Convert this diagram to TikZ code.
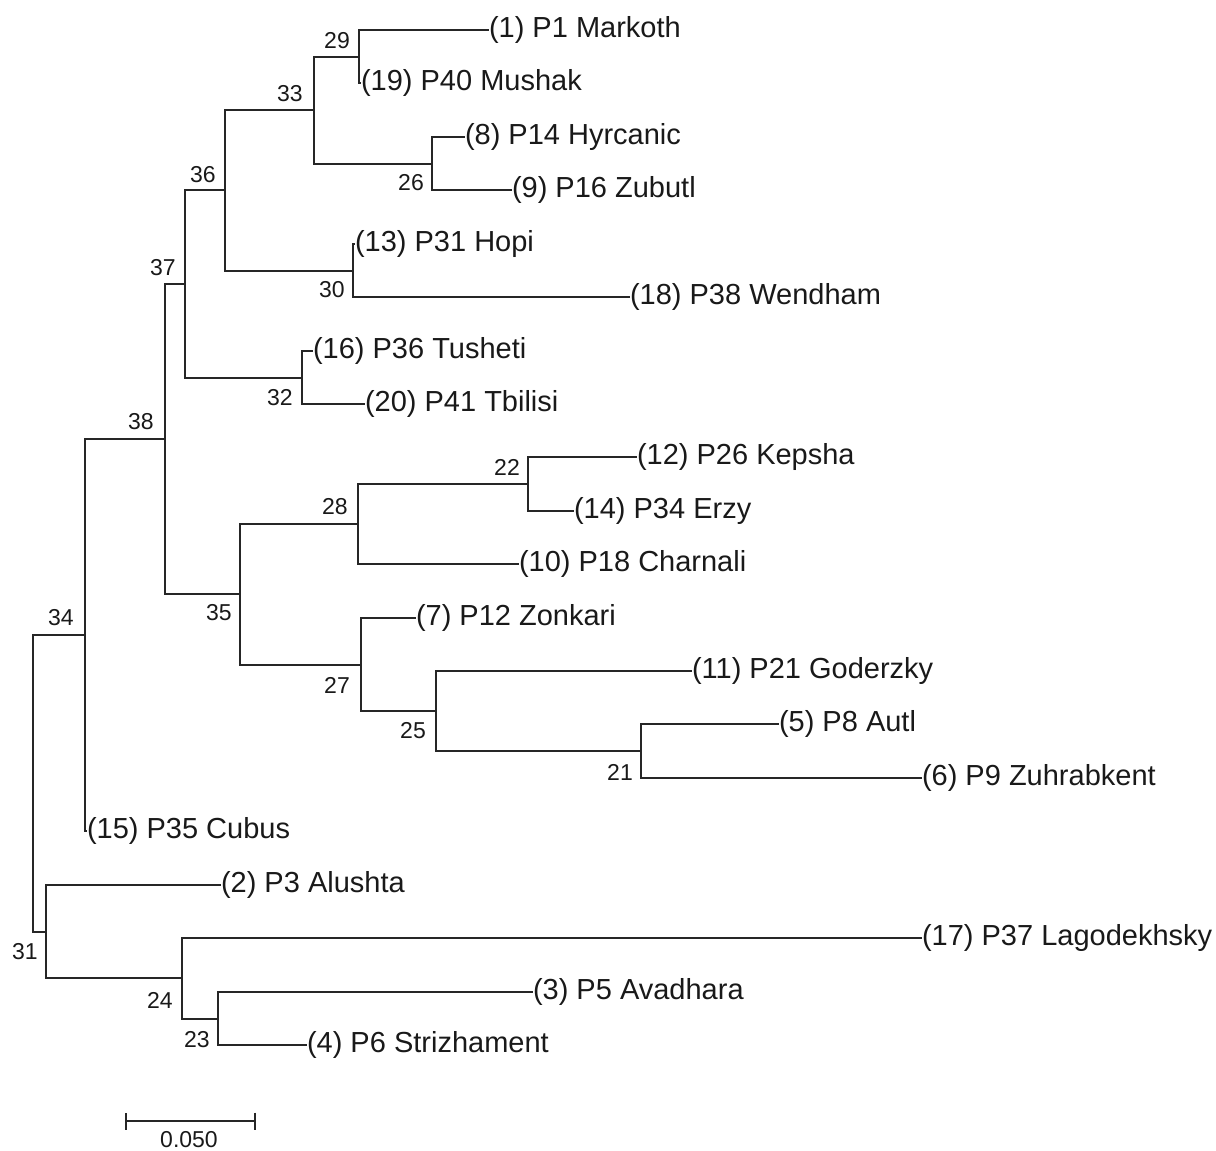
\documentclass[tikz,border=0pt]{standalone}
\usepackage{fontspec}
\setmainfont{Liberation Sans}
\usetikzlibrary{arrows.meta}

\begin{document}
\begin{tikzpicture}[
        x=0.5pt, y=-0.5pt,
        taxon/.style={anchor=west, inner sep=0pt, outer sep=0pt, text=black!90, font=\fontsize{14.5}{17}\selectfont},
        nodeno/.style={inner sep=0pt, text=black!90, font=\fontsize{11.5}{13}\selectfont},
        branch/.style={line width=1pt, draw=black!85}
    ]
        \useasboundingbox (0,0) rectangle (1216,1151);

        % Taxa
        \node[taxon] (t1) at (489,30) {(1) P1 Markoth};
        \node[taxon] (t19) at (361,83) {(19) P40 Mushak};
        \node[taxon] (t8) at (465,137) {(8) P14 Hyrcanic};
        \node[taxon] (t9) at (512,190) {(9) P16 Zubutl};
        \node[taxon] (t13) at (355,244) {(13) P31 Hopi};
        \node[taxon] (t18) at (630,297) {(18) P38 Wendham};
        \node[taxon] (t16) at (313,351) {(16) P36 Tusheti};
        \node[taxon] (t20) at (365,404) {(20) P41 Tbilisi};
        \node[taxon] (t12) at (637,457) {(12) P26 Kepsha};
        \node[taxon] (t14) at (574,511) {(14) P34 Erzy};
        \node[taxon] (t10) at (519,564) {(10) P18 Charnali};
        \node[taxon] (t7) at (416,618) {(7) P12 Zonkari};
        \node[taxon] (t11) at (692,671) {(11) P21 Goderzky};
        \node[taxon] (t5) at (779,724) {(5) P8 Autl};
        \node[taxon] (t6) at (922,778) {(6) P9 Zuhrabkent};
        \node[taxon] (t15) at (87,831) {(15) P35 Cubus};
        \node[taxon] (t2) at (221,885) {(2) P3 Alushta};
        \node[taxon] (t17) at (922,938) {(17) P37 Lagodekhsky};
        \node[taxon] (t3) at (533,992) {(3) P5 Avadhara};
        \node[taxon] (t4) at (307,1045) {(4) P6 Strizhament};

        % Internal nodes
        \coordinate (n29) at (359,56.5);
        \coordinate (n26) at (432,163.5);
        \coordinate (n33) at (314,110);
        \coordinate (n30) at (353,270.5);
        \coordinate (n36) at (225,190.3);
        \coordinate (n32) at (302,377.5);
        \coordinate (n37) at (185,283.9);
        \coordinate (n22) at (528,484);
        \coordinate (n28) at (358,524);
        \coordinate (n21) at (641,751);
        \coordinate (n25) at (436,711);
        \coordinate (n27) at (361,664.5);
        \coordinate (n35) at (240,594.3);
        \coordinate (n38) at (165,439);
        \coordinate (n34) at (85,635);
        \coordinate (n23) at (218,1018.5);
        \coordinate (n24) at (182,978);
        \coordinate (n31) at (46,931.5);
        \coordinate (root) at (33,783);

        % Branches
        \draw[branch] (n29) |- (t1.west);
        \draw[branch] (n29) |- (t19.west);
        \draw[branch] (n26) |- (t8.west);
        \draw[branch] (n26) |- (t9.west);
        \draw[branch] (n33) |- (n29);
        \draw[branch] (n33) |- (n26);
        \draw[branch] (n30) |- (t13.west);
        \draw[branch] (n30) |- (t18.west);
        \draw[branch] (n36) |- (n33);
        \draw[branch] (n36) |- (n30);
        \draw[branch] (n32) |- (t16.west);
        \draw[branch] (n32) |- (t20.west);
        \draw[branch] (n37) |- (n36);
        \draw[branch] (n37) |- (n32);
        \draw[branch] (n22) |- (t12.west);
        \draw[branch] (n22) |- (t14.west);
        \draw[branch] (n28) |- (n22);
        \draw[branch] (n28) |- (t10.west);
        \draw[branch] (n21) |- (t5.west);
        \draw[branch] (n21) |- (t6.west);
        \draw[branch] (n25) |- (t11.west);
        \draw[branch] (n25) |- (n21);
        \draw[branch] (n27) |- (t7.west);
        \draw[branch] (n27) |- (n25);
        \draw[branch] (n35) |- (n28);
        \draw[branch] (n35) |- (n27);
        \draw[branch] (n38) |- (n37);
        \draw[branch] (n38) |- (n35);
        \draw[branch] (n34) |- (n38);
        \draw[branch] (n34) |- (t15.west);
        \draw[branch] (n23) |- (t3.west);
        \draw[branch] (n23) |- (t4.west);
        \draw[branch] (n24) |- (t17.west);
        \draw[branch] (n24) |- (n23);
        \draw[branch] (n31) |- (t2.west);
        \draw[branch] (n31) |- (n24);
        \draw[branch] (root) |- (n34);
        \draw[branch] (root) |- (n31);

        % Node numbers
        \node[nodeno] (k29) at (337,41) {29};
        \node[nodeno] (k33) at (290,94) {33};
        \node[nodeno] (k26) at (411,183) {26};
        \node[nodeno] (k36) at (203,175) {36};
        \node[nodeno] (k30) at (332,290) {30};
        \node[nodeno] (k37) at (163,268) {37};
        \node[nodeno] (k32) at (280,398) {32};
        \node[nodeno] (k38) at (141,422) {38};
        \node[nodeno] (k22) at (507,467) {22};
        \node[nodeno] (k28) at (335,507) {28};
        \node[nodeno] (k35) at (219,613) {35};
        \node[nodeno] (k27) at (337,685) {27};
        \node[nodeno] (k25) at (413,731) {25};
        \node[nodeno] (k21) at (620,772) {21};
        \node[nodeno] (k34) at (61,618) {34};
        \node[nodeno] (k31) at (25,952) {31};
        \node[nodeno] (k24) at (160,1000) {24};
        \node[nodeno] (k23) at (197,1040) {23};

        % Scale bar
        \coordinate (sb1) at (125,1121);
        \coordinate (sb2) at (256,1121);
        \draw[branch, {Bar[width=8.5pt]}-{Bar[width=8.5pt]}] (sb1) -- (sb2);
        \node[nodeno] (sblabel) at (189,1140) {0.050};
\end{tikzpicture}
\end{document}
